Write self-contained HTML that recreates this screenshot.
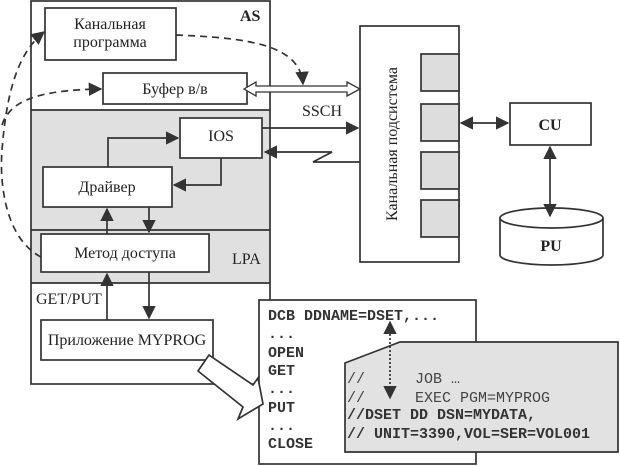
<!DOCTYPE html>
<html><head><meta charset="utf-8"><style>
html,body{margin:0;padding:0;background:#fff}
svg{display:block}
.t{font-family:"Liberation Serif",serif;font-size:16px;fill:#222}
.m{font-family:"Liberation Mono",monospace;font-size:15px;fill:#444}
.mb{font-family:"Liberation Mono",monospace;font-size:15px;font-weight:bold;fill:#333}
</style></head><body>
<svg width="620" height="466" viewBox="0 0 620 466" xmlns="http://www.w3.org/2000/svg">
<defs>
<marker id="a" viewBox="0 0 10 10" refX="9" refY="5" markerWidth="8" markerHeight="8" orient="auto-start-reverse"><path d="M0,0 L10,5 L0,10 z" fill="#333"/></marker>
</defs>
<g stroke="#333" stroke-width="1.7" fill="none">
<rect x="31" y="110" width="239" height="173" fill="#e0e0e0" stroke="none"/>
<rect x="31" y="1" width="239" height="383"/>
<line x1="31" y1="110" x2="270" y2="110"/>
<line x1="31" y1="230" x2="270" y2="230"/>
<line x1="31" y1="283" x2="270" y2="283"/>
<rect x="45" y="8" width="131" height="52" fill="#fff"/>
<rect x="103" y="73" width="144" height="31" fill="#fff"/>
<rect x="180" y="118" width="82" height="40" fill="#fff"/>
<rect x="43" y="167" width="129" height="40" fill="#fff"/>
<rect x="41" y="234" width="168" height="38" fill="#fff"/>
<rect x="41" y="320" width="172" height="40" fill="#fff"/>
<path d="M108,167 V138 H178" marker-end="url(#a)"/>
<path d="M221,158 V185 H174" marker-end="url(#a)"/>
<path d="M107,234 V209" marker-end="url(#a)"/>
<path d="M149,207 V232" marker-end="url(#a)"/>
<path d="M107,320 V274" marker-end="url(#a)"/>
<path d="M149,272 V318" marker-end="url(#a)"/>
<rect x="360" y="26" width="99" height="236" fill="#fff"/>
<rect x="421" y="54" width="38" height="37" fill="#ddd"/>
<rect x="421" y="104" width="38" height="37" fill="#ddd"/>
<rect x="421" y="152" width="38" height="37" fill="#ddd"/>
<rect x="421" y="200" width="38" height="37" fill="#ddd"/>
<rect x="510" y="103" width="81" height="42" fill="#fff"/>
<path d="M461,123 H508" marker-start="url(#a)" marker-end="url(#a)"/>
<path d="M500,218 V255 A51.5,10 0 0 0 603,255 V218" fill="#fff"/>
<ellipse cx="551.5" cy="218" rx="51.5" ry="10" fill="#fff"/>
<path d="M550,147 V216" marker-start="url(#a)" marker-end="url(#a)"/>
<path d="M262,128 H358" marker-end="url(#a)"/>
<path d="M360,162 H313 L332,152 H265" marker-end="url(#a)"/>
<path d="M244,89 L256,82 V86 H347 V82 L360,89 L347,96 V92 H256 V96 Z" fill="#fff" stroke-width="1.3"/>
<g stroke-dasharray="7,5">
<path d="M176,35 C250,38 300,45 303,84" marker-end="url(#a)"/>
<path d="M41,257 C8,240 -1,190 2,150 C6,100 15,55 44,32" marker-end="url(#a)"/>
<path d="M2,125 C10,100 40,90 101,89" marker-end="url(#a)"/>
</g>
<rect x="259" y="300" width="217" height="164" fill="#fff"/>
<polygon points="345,363 400,342 618,342 618,452 345,452" fill="#e2e2e2"/>
<path d="M390,322 V398" stroke-dasharray="2,2" marker-start="url(#a)" marker-end="url(#a)"/>
<polygon points="198,371 209,355 253,385 258,378 263,404 238,419 243,407" fill="#fff"/>
</g>
<text class="t" x="240" y="21" font-weight="bold">AS</text>
<text class="t" x="110" y="29" text-anchor="middle">Канальная</text>
<text class="t" x="110" y="47" text-anchor="middle">программа</text>
<text class="t" x="175" y="94" text-anchor="middle">Буфер в/в</text>
<text class="t" x="221" y="141" text-anchor="middle">IOS</text>
<text class="t" x="107" y="192" text-anchor="middle">Драйвер</text>
<text class="t" x="125" y="258" text-anchor="middle">Метод доступа</text>
<text class="t" x="232" y="264">LPA</text>
<text class="t" x="36" y="304">GET/PUT</text>
<text class="t" x="127" y="345" text-anchor="middle">Приложение MYPROG</text>
<text class="t" x="302" y="116">SSCH</text>
<text class="t" x="397" y="144" text-anchor="middle" transform="rotate(-90 397 144)">Канальная подсистема</text>
<text class="t" x="550" y="130" text-anchor="middle" font-weight="bold" font-size="19">CU</text>
<text class="t" x="551" y="251" text-anchor="middle" font-weight="bold" font-size="19">PU</text>
<text class="mb" x="268" y="320">DCB DDNAME=DSET,...</text>
<text class="mb" x="268" y="338">...</text>
<text class="mb" x="268" y="357">OPEN</text>
<text class="mb" x="268" y="375">GET</text>
<text class="mb" x="268" y="393">...</text>
<text class="mb" x="268" y="412">PUT</text>
<text class="mb" x="268" y="430">...</text>
<text class="mb" x="268" y="448">CLOSE</text>
<text class="m" x="347" y="383">//</text>
<text class="m" x="415" y="383">JOB …</text>
<text class="m" x="347" y="402">//</text>
<text class="m" x="415" y="402">EXEC PGM=MYPROG</text>
<text class="mb" x="347" y="419">//DSET DD DSN=MYDATA,</text>
<text class="mb" x="347" y="438">// UNIT=3390,VOL=SER=VOL001</text>
</svg>
</body></html>
